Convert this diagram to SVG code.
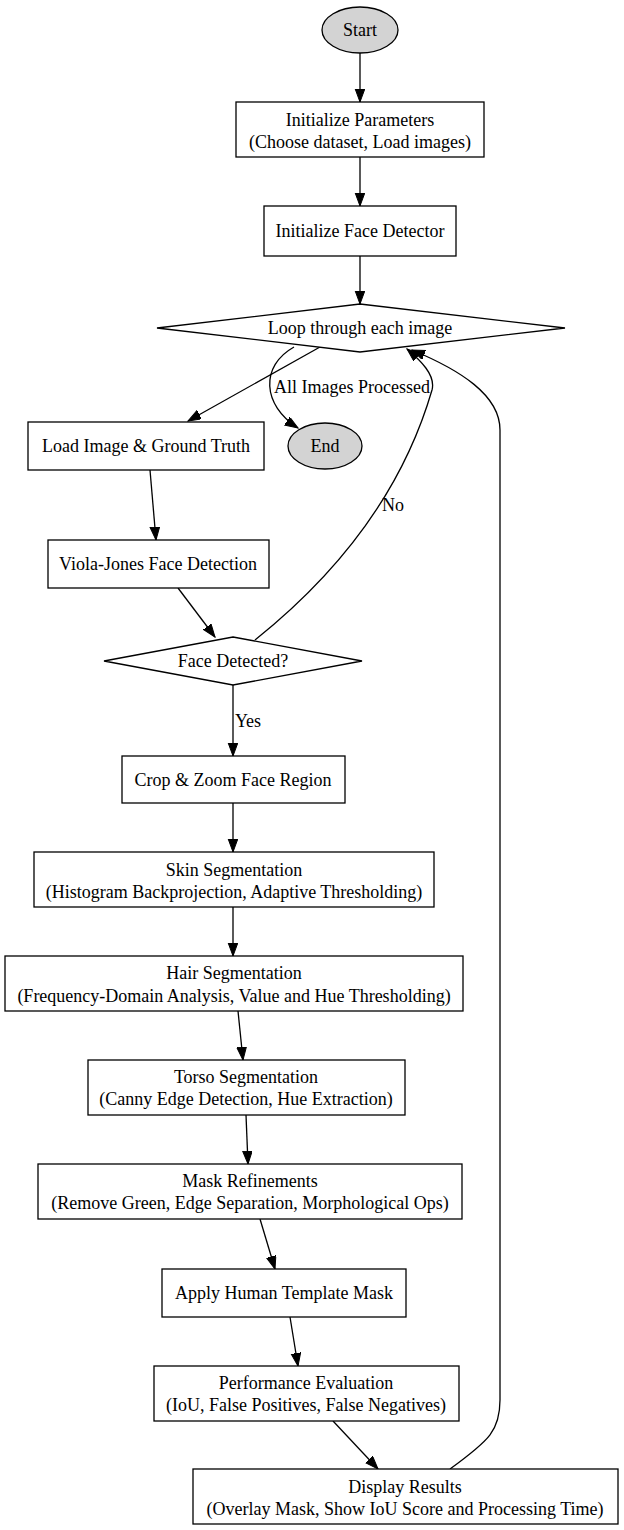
<svg xmlns="http://www.w3.org/2000/svg" width="624" height="1530" viewBox="0 0 624 1530">
<style>
text{font-family:"Liberation Serif","Times New Roman",serif;font-size:18px;text-anchor:middle;fill:#000}
.n{fill:#fff;stroke:#000;stroke-width:1.3}
.t{fill:#d3d3d3;stroke:#000;stroke-width:1.3}
.e{fill:none;stroke:#000;stroke-width:1.3;marker-end:url(#a)}
</style>
<defs>
<marker id="a" markerUnits="userSpaceOnUse" markerWidth="14" markerHeight="11" refX="13" refY="4.8" orient="auto">
<path d="M0,0L13,4.8L0,9.6z" fill="#000" stroke="#000" stroke-width="1"/>
</marker>
</defs>
<rect width="624" height="1530" fill="#fff"/>
<g id="edges">
<path class="e" d="M360,53V102"/>
<path class="e" d="M360,157V206"/>
<path class="e" d="M360,256V304"/>
<path class="e" d="M320,347L188,421"/>
<path class="e" d="M294,347C260,366 262,405 298,428"/>
<path class="e" d="M150,470L156,540"/>
<path class="e" d="M178,588L215,637"/>
<path class="e" d="M255,640C330,580 400,500 432,390C436,375 420,360 407,349"/>
<path class="e" d="M233,685V756"/>
<path class="e" d="M233,803V852"/>
<path class="e" d="M233,907V956"/>
<path class="e" d="M238,1011L243,1060"/>
<path class="e" d="M246,1115L248,1164"/>
<path class="e" d="M260,1219L275,1269"/>
<path class="e" d="M290,1317L298,1366"/>
<path class="e" d="M333,1421L378,1469"/>
<path class="e" d="M450,1469C490,1440 500,1430 500,1400V430C500,395 460,370 412,350"/>
</g>
<g id="labels">
<text x="352" y="393">All Images Processed</text>
<text x="393" y="511">No</text>
<text x="248" y="727">Yes</text>
</g>
<g id="start"><ellipse class="t" cx="360" cy="30" rx="38" ry="23"/><text x="360" y="36">Start</text></g>
<g id="init_params"><rect class="n" x="236" y="102" width="248" height="55"/><text x="360" y="126">Initialize Parameters</text><text x="360" y="148">(Choose dataset, Load images)</text></g>
<g id="init_detector"><rect class="n" x="264" y="206" width="192" height="50"/><text x="360" y="237">Initialize Face Detector</text></g>
<g id="loop"><polygon class="n" points="360,304 565,328 360,352 157,328"/><text x="360" y="334">Loop through each image</text></g>
<g id="load"><rect class="n" x="28" y="422" width="236" height="48"/><text x="146" y="452">Load Image &amp; Ground Truth</text></g>
<g id="end"><ellipse class="t" cx="325" cy="446" rx="37" ry="23"/><text x="325" y="452">End</text></g>
<g id="viola"><rect class="n" x="48" y="540" width="221" height="48"/><text x="158" y="570">Viola-Jones Face Detection</text></g>
<g id="face_detected"><polygon class="n" points="233,637 362,661 233,685 104,661"/><text x="233" y="667">Face Detected?</text></g>
<g id="crop"><rect class="n" x="122" y="756" width="223" height="47"/><text x="233" y="786">Crop &amp; Zoom Face Region</text></g>
<g id="skin"><rect class="n" x="34" y="852" width="400" height="55"/><text x="234" y="876">Skin Segmentation</text><text x="234" y="898">(Histogram Backprojection, Adaptive Thresholding)</text></g>
<g id="hair"><rect class="n" x="5" y="956" width="458" height="55"/><text x="234" y="979">Hair Segmentation</text><text x="234" y="1002">(Frequency-Domain Analysis, Value and Hue Thresholding)</text></g>
<g id="torso"><rect class="n" x="88" y="1060" width="317" height="55"/><text x="246" y="1083">Torso Segmentation</text><text x="246" y="1105">(Canny Edge Detection, Hue Extraction)</text></g>
<g id="mask"><rect class="n" x="38" y="1164" width="424" height="55"/><text x="250" y="1187">Mask Refinements</text><text x="250" y="1209">(Remove Green, Edge Separation, Morphological Ops)</text></g>
<g id="apply"><rect class="n" x="162" y="1269" width="244" height="48"/><text x="284" y="1299">Apply Human Template Mask</text></g>
<g id="perf"><rect class="n" x="154" y="1366" width="305" height="55"/><text x="306" y="1389">Performance Evaluation</text><text x="306" y="1411">(IoU, False Positives, False Negatives)</text></g>
<g id="display"><rect class="n" x="193" y="1469" width="425" height="55"/><text x="405" y="1493">Display Results</text><text x="405" y="1515">(Overlay Mask, Show IoU Score and Processing Time)</text></g>
</svg>
